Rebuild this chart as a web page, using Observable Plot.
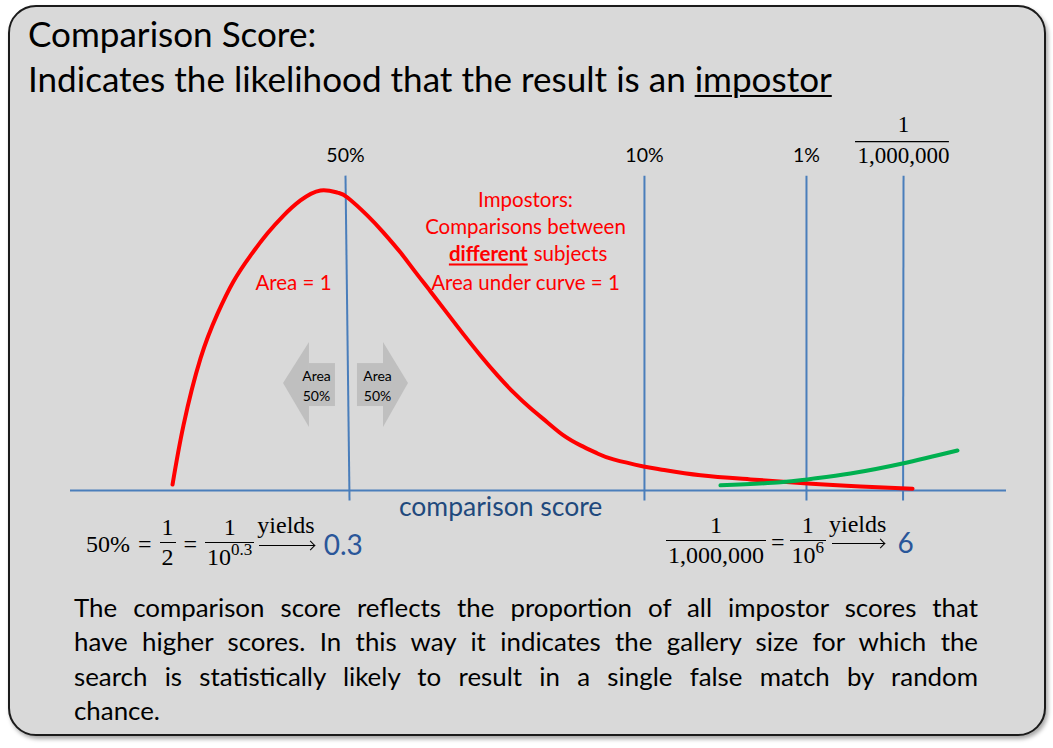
<!DOCTYPE html>
<html><head><meta charset="utf-8">
<script src="https://cdn.jsdelivr.net/npm/d3@7"></script>
<script src="https://cdn.jsdelivr.net/npm/@observablehq/plot@0.6"></script>
<style>
html,body{margin:0;padding:0;background:#fff;}
#wrap{position:relative;width:1053px;height:748px;overflow:hidden;font-family:Lato,"Open Sans",sans-serif;}
#panel{position:absolute;left:8px;top:5px;width:1034px;height:727px;border:2px solid #1b1b1b;border-radius:28px;background:#d9d9d9;box-shadow:2px 3px 4px rgba(0,0,0,0.35);}
.tl{position:absolute;left:28px;top:0;font-size:30px;line-height:40px;white-space:nowrap;color:#000;}
.tl u{text-decoration-thickness:2px;text-underline-offset:3px;}
.pl{position:absolute;left:74px;top:0;width:904px;font-size:25px;line-height:34px;white-space:nowrap;color:#000;text-align:justify;text-align-last:justify;}
.pl.last{text-align:left;text-align-last:left;}
.eq{position:absolute;top:0;font-family:"Liberation Serif","DejaVu Serif",serif;font-size:24px;line-height:30px;white-space:nowrap;color:#000;}
.op{margin:0 8px;}
#eqR .op{margin:0 5px;}
.frac{display:inline-block;vertical-align:-13px;text-align:center;line-height:26px;}
.num{display:block;border-bottom:1.3px solid #000;padding:0 2px 2px;}
.den{display:block;padding:1px 2px 0;}
.den sup{font-size:17px;position:relative;top:-10px;vertical-align:baseline;line-height:0;}
.yields{display:inline-block;vertical-align:19px;text-align:center;margin-left:3px;line-height:24px;}
#eqR .yields{vertical-align:18px;}
.yt{display:block;}
.arr{display:block;position:relative;width:55px;height:1.3px;background:#000;margin:8px auto 0;}
#eqR .arr{width:52px;margin-top:7px;}
.arr::after{content:"";position:absolute;right:0px;top:-3.4px;width:6px;height:6px;border-top:1.3px solid #000;border-right:1.3px solid #000;transform:rotate(45deg);}
.res{font-family:Lato,sans-serif;font-size:28px;color:#2a5699;margin-left:9px;vertical-align:-3px;}
</style>
</head>
<body>
<div id="wrap">
  <div id="panel"></div>
  <div class="tl" id="t1">Comparison Score:</div>
  <div class="tl" id="t2">Indicates the likelihood that the result is an <u>impostor</u></div>
  <div class="eq" id="eqL" style="left:86px"><span>50%</span><span class="op">=</span><span class="frac"><span class="num">1</span><span class="den">2</span></span><span class="op">=</span><span class="frac"><span class="num">1</span><span class="den">10<sup>0.3</sup></span></span><span class="yields"><span class="yt">yields</span><span class="arr"></span></span><span class="res">0.3</span></div>
  <div class="eq" id="eqR" style="left:666px"><span class="frac"><span class="num" style="padding-left:3px;padding-right:3px">1</span><span class="den">1,000,000</span></span><span class="op">=</span><span class="frac"><span class="num">1</span><span class="den">10<sup>6</sup></span></span><span class="yields"><span class="yt">yields</span><span class="arr"></span></span><span class="res" style="margin-left:11px">6</span></div>
  <div class="pl" id="p0">The comparison score reflects the proportion of all impostor scores that</div>
  <div class="pl" id="p1">have higher scores. In this way it indicates the gallery size for which the</div>
  <div class="pl" id="p2">search is statistically likely to result in a single false match by random</div>
  <div class="pl last" id="p3">chance.</div>
</div>
<script>
// ---------- data ----------
const thresholdLabels = ["50%", "10%", "1%"];
const thresholdTop    = [2.938, 6.132, 7.863, 8.900];   // comparison-score position of each threshold line (top)
const thresholdBottom = [2.981, 6.132, 7.863, 8.895];   // (bottom; the 50% line leans slightly)
const fractionLabel = ["1", "1,000,000"];

// impostor score distribution (red)
const impostorScore = [1.090,1.207,1.389,1.571,1.741,1.923,2.105,2.276,2.457,2.671,2.853,2.959,3.173,3.344,3.526,3.665,3.846,4.028,4.199,4.380,4.562,4.733,4.915,5.096,5.267,5.449,5.630,5.801,6.122,6.303,6.731,7.265,7.874,8.440,8.996];
const impostorDensity = [0.016,0.176,0.357,0.478,0.565,0.635,0.695,0.743,0.784,0.811,0.805,0.792,0.743,0.697,0.643,0.597,0.538,0.478,0.422,0.365,0.311,0.265,0.222,0.184,0.149,0.122,0.100,0.084,0.065,0.057,0.041,0.030,0.019,0.011,0.005];
// genuine score distribution tail (green)
const genuineScore   = [6.944,7.585,7.874,8.333,8.889,9.476];
const genuineDensity = [0.014,0.022,0.030,0.046,0.073,0.108];

// half-area arrows either side of the median
const arrowIds = ["left", "right"];
const arrowBodyX1 = [2.553, 3.066], arrowBodyX2 = [2.831, 3.344];
const arrowHeadBase = [2.553, 3.344], arrowHeadTip = [2.276, 3.611];
const arrowLabelX = [2.628, 3.280];

const redNotes = ["Impostors:", "Comparisons between", "Area under curve = 1"];
const redNoteY = [0.765, 0.692, 0.543];

const blue = "#4a7ebb", red = "#ff0000", green = "#00b050", grey = "#bfbfbf";

const impostor = impostorScore.map((x, i) => ({x, y: impostorDensity[i]}));
const genuine = genuineScore.map((x, i) => ({x, y: genuineDensity[i]}));
const idx = thresholdTop.map((_, i) => i);
const bodies = arrowIds.map((id, i) => ({id, x1: arrowBodyX1[i], x2: arrowBodyX2[i], y1: 0.227, y2: 0.343}));
const heads = arrowIds.flatMap((id, i) => [
  {id, x: arrowHeadTip[i], lo: 0.289, hi: 0.289},
  {id, x: arrowHeadBase[i], lo: 0.170, hi: 0.400}
]);

const chart = Plot.plot({
  width: 1053, height: 490,
  marginLeft: 70, marginRight: 47, marginTop: 20, marginBottom: 100,
  x: {domain: [0, 10], axis: null},
  y: {domain: [0, 1], axis: null},
  style: {position: "absolute", left: "0px", top: "100px", background: "transparent", overflow: "visible", fontFamily: "Lato, sans-serif"},
  marks: [
    Plot.ruleY([0], {stroke: blue, strokeWidth: 2}),
    Plot.link(idx, {x1: i => thresholdBottom[i], x2: i => thresholdTop[i], y1: () => -0.027, y2: () => 0.851, stroke: blue, strokeWidth: 2}),
    Plot.rect(bodies, {x1: "x1", x2: "x2", y1: "y1", y2: "y2", fill: grey}),
    Plot.area(heads, {x1: "x", y1: "lo", y2: "hi", z: "id", fill: grey, curve: "linear"}),
    Plot.line(impostor, {x: "x", y: "y", stroke: red, strokeWidth: 4, curve: "natural"}),
    Plot.line(genuine, {x: "x", y: "y", stroke: green, strokeWidth: 4, curve: "natural"}),
    // threshold labels
    Plot.text(thresholdLabels, {x: (d, i) => thresholdTop[i], y: () => 0.889, text: d => d, fontSize: 19.5, lineAnchor: "bottom", fill: "#000"}),
    Plot.text([fractionLabel[0]], {x: () => thresholdTop[3], y: () => 0.968, text: d => d, fontSize: 23, fontFamily: "Liberation Serif, serif", lineAnchor: "bottom", fill: "#000"}),
    Plot.text([fractionLabel[1]], {x: () => thresholdTop[3], y: () => 0.884, text: d => d, fontSize: 23, fontFamily: "Liberation Serif, serif", lineAnchor: "bottom", fill: "#000"}),
    Plot.ruleY([0.943], {x1: () => thresholdTop[3] - 0.513, x2: () => thresholdTop[3] + 0.49, stroke: "#000", strokeWidth: 1.3}),
    // red annotations
    Plot.text(redNotes, {x: () => 4.861, y: (d, i) => redNoteY[i], text: d => d, fontSize: 20.5, fill: red, lineAnchor: "bottom"}),
    Plot.text(["different"], {x: () => 4.885, y: () => 0.619, text: d => d, fontSize: 20.5, fontWeight: "bold", fill: red, textAnchor: "end", lineAnchor: "bottom"}),
    Plot.text(["subjects"], {x: () => 4.885, y: () => 0.619, text: d => d, fontSize: 20.5, fill: red, textAnchor: "start", dx: 6, lineAnchor: "bottom"}),
    Plot.text(["Area = 1"], {x: () => 2.382, y: () => 0.543, text: d => d, fontSize: 20.5, fill: red, lineAnchor: "bottom"}),
    // arrow labels
    Plot.text(arrowIds, {x: (d, i) => arrowLabelX[i], y: () => 0.241, text: () => "Area\n50%", fontSize: 14, lineHeight: 1.45, fill: "#000", lineAnchor: "bottom"}),
    // axis title
    Plot.text(["comparison score"], {x: () => 4.595, y: () => -0.069, text: d => d, fontSize: 26.5, fill: "#1f497d", lineAnchor: "bottom"})
  ]
});
document.getElementById("wrap").appendChild(chart);
d3.select(chart).selectAll("text").filter(function() { return this.textContent === "different"; })
  .attr("text-decoration", "underline");

// ---------- layout helpers ----------
const wrap = document.getElementById("wrap");
function baselineOf(el) {
  const m = document.createElement("span");
  m.style.cssText = "display:inline-block;width:0;height:0;";
  el.appendChild(m);
  const b = m.getBoundingClientRect().top - wrap.getBoundingClientRect().top;
  m.remove();
  return b;
}
function setBaseline(el, target) {
  const cur = parseFloat(el.style.top || "0");
  el.style.top = (cur + target - baselineOf(el)) + "px";
}
function naturalWidth(el) {
  const s = document.createElement("span");
  s.style.cssText = "white-space:nowrap;";
  s.innerHTML = el.innerHTML;
  el.style.textAlignLast = "left"; el.style.textAlign = "left";
  el.innerHTML = ""; el.appendChild(s);
  const w = s.getBoundingClientRect().width;
  el.innerHTML = s.innerHTML;
  el.style.textAlignLast = ""; el.style.textAlign = "";
  return w;
}
// title
const t1 = document.getElementById("t1"), t2 = document.getElementById("t2");
const tw = naturalWidth(t2);
const tfs = 30 * 804 / tw;
t1.style.fontSize = tfs + "px"; t2.style.fontSize = tfs + "px";
setBaseline(t1, 47); setBaseline(t2, 92);
// paragraph
const ps = [0,1,2,3].map(i => document.getElementById("p" + i));
const maxW = Math.max(...ps.slice(0, 3).map(naturalWidth));
const chanceW = naturalWidth(ps[3]);
const pfs = Math.min(25 * 86 / chanceW, 25 * 870 / maxW);
ps.forEach((p, i) => { p.style.fontSize = pfs + "px"; setBaseline(p, 617 + 34.4 * i); });
// equations
setBaseline(document.getElementById("eqL"), 552);
setBaseline(document.getElementById("eqR"), 550);
</script>
</body></html>
